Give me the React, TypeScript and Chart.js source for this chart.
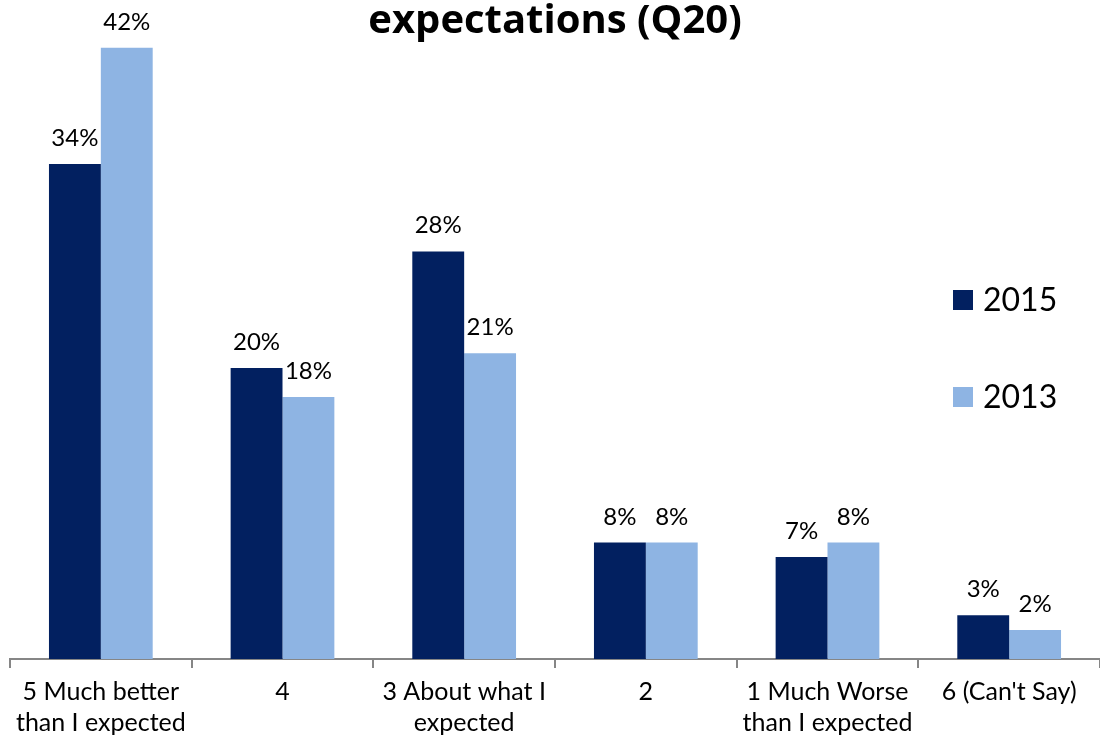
import { useEffect, useRef } from "react";
import { Chart, registerables } from "chart.js";

Chart.register(...registerables);

const categories: (string | string[])[] = [
  ["5 Much better", "than I expected"],
  "4",
  ["3 About what I", "expected"],
  "2",
  ["1 Much Worse", "than I expected"],
  "6 (Can't Say)",
];
const seriesNames = ["2015", "2013"];
const values2015 = [34, 20, 28, 8, 7, 3];
const values2013 = [42, 18, 21, 8, 8, 2];
const titleText = "expectations (Q20)";

const DARK = "#022060";
const LIGHT = "#8EB4E3";
const AXIS = "#868686";
const FONT = "Lato, 'Open Sans', sans-serif";
const TITLE_FONT = "'Open Sans', Lato, sans-serif";

const overlayPlugin = {
  id: "overlay",
  afterDatasetsDraw(chart: any) {
    const ctx = chart.ctx;
    ctx.save();
    ctx.fillStyle = "#000";
    ctx.font = `24px ${FONT}`;
    ctx.textAlign = "center";
    ctx.textBaseline = "alphabetic";
    chart.data.datasets.forEach((ds: any, di: number) => {
      const meta = chart.getDatasetMeta(di);
      meta.data.forEach((el: any, i: number) => {
        ctx.fillText(`${ds.data[i]}%`, el.x, el.y - 18);
      });
    });
    ctx.restore();
  },
  afterDraw(chart: any) {
    const ctx = chart.ctx;
    const area = chart.chartArea;
    ctx.save();
    // title (second line visible)
    ctx.fillStyle = "#000";
    ctx.font = `bold 40px ${TITLE_FONT}`;
    ctx.textAlign = "center";
    ctx.textBaseline = "alphabetic";
    ctx.fillText(titleText, (area.left + area.right) / 2, 33);
    // legend
    const lx = area.right - 147;
    const colors = [DARK, LIGHT];
    ctx.font = `32px ${FONT}`;
    ctx.textAlign = "left";
    seriesNames.forEach((name, i) => {
      const top = 290 + i * 97;
      ctx.fillStyle = colors[i];
      ctx.fillRect(lx, top, 20, 20);
      ctx.fillStyle = "#000";
      ctx.fillText(name, lx + 30, top + 21);
    });
    ctx.restore();
  },
};

export default function App() {
  const ref = useRef<HTMLCanvasElement>(null);
  useEffect(() => {
    if (!ref.current) return;
    const chart = new Chart(ref.current, {
      type: "bar",
      data: {
        labels: categories,
        datasets: [
          { label: seriesNames[0], data: values2015, backgroundColor: DARK },
          { label: seriesNames[1], data: values2013, backgroundColor: LIGHT },
        ],
      },
      options: {
        responsive: false,
        animation: false,
        layout: { padding: { top: 4, left: 10, right: 0, bottom: 0 } },
        plugins: {
          legend: { display: false },
          tooltip: { enabled: false },
          title: { display: false },
        },
        datasets: {
          bar: { categoryPercentage: 0.571, barPercentage: 1.0 },
        },
        scales: {
          x: {
            offset: true,
            grid: {
              display: true,
              offset: true,
              drawOnChartArea: false,
              drawTicks: true,
              tickLength: 9,
              color: AXIS,
              lineWidth: 2,
            },
            border: { display: true, color: AXIS, width: 2 },
            ticks: {
              autoSkip: false,
              maxRotation: 0,
              minRotation: 0,
              padding: 9,
              color: "#000",
              font: { family: FONT, size: 25, lineHeight: 1.22 },
            },
            afterFit: (scale: any) => {
              scale.height = 81;
            },
          },
          y: {
            display: false,
            min: 0,
            max: 45,
          },
        },
      },
      plugins: [overlayPlugin],
    });
    return () => chart.destroy();
  }, []);
  return (
    <div style={{ position: "absolute", left: 0, top: 0, width: 1100, height: 740, background: "#fff" }}>
      <canvas ref={ref} width={1100} height={740} style={{ display: "block" }} />
    </div>
  );
}
